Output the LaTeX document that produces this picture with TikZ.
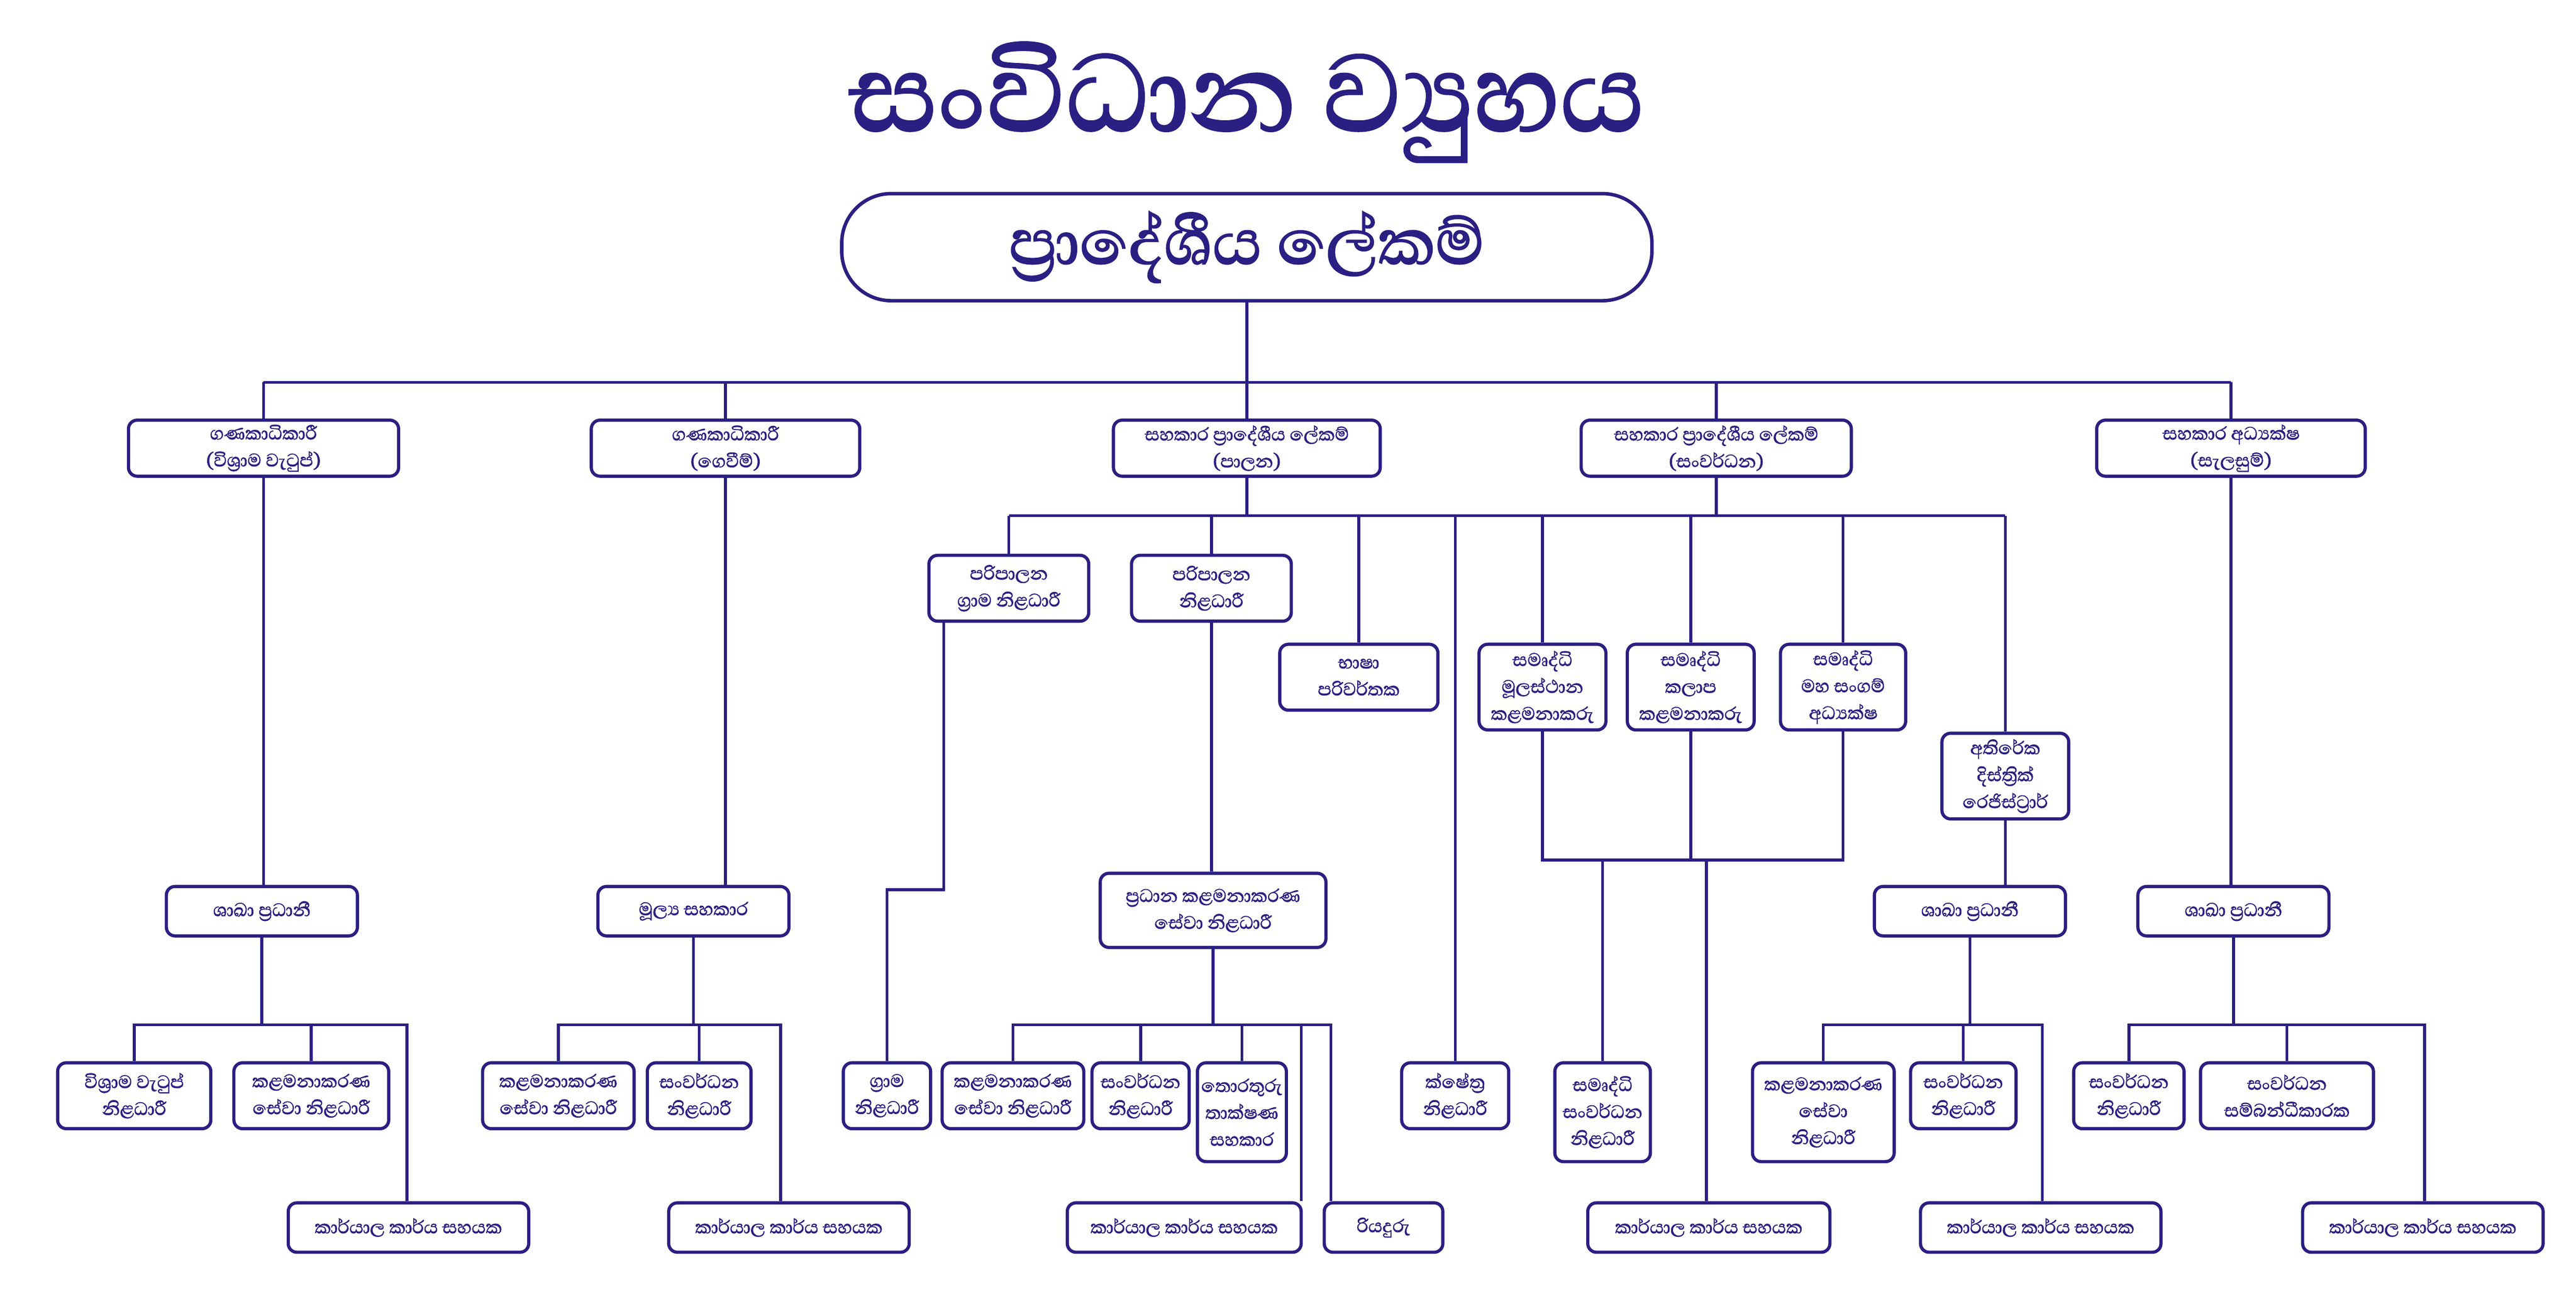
\documentclass[tikz,border=0pt]{standalone}
\usepackage{fontspec}
\newfontfamily\sinfont[Script=Sinhala,FakeBold=1.6]{Abhaya Libre}
\definecolor{nv}{HTML}{2A1F82}
\newcommand\bx[6]{\node[box,minimum width={(#4-#2)*0.02cm},minimum height={(#5-#3)*0.02cm}] (#1) at ({(#2+#4)/2},{(#3+#5)/2}) {#6};}
\begin{document}
\begin{tikzpicture}[x=0.02cm,y=-0.02cm,
  box/.style={draw=nv,line width=1.1pt,rounded corners=3pt,fill=white,text=nv,align=center,inner sep=1pt,font=\sinfont\fontsize{8}{9.3}\selectfont},
  ln/.style={draw=nv,line width=1pt}]
\useasboundingbox[fill=white] (0,0) rectangle (1564,782);
\node[text=nv,font=\sinfont\fontsize{48}{52}\selectfont] (title) at (757,62) {සංවිධාන ව්‍යුහය};
\node[draw=nv,line width=1.2pt,rounded corners=0.6cm,minimum width=9.84cm,minimum height=1.3cm,text=nv,font=\sinfont\fontsize{28}{32}\selectfont] (top) at (757,150) {ප්‍රාදේශීය ලේකම්};
% level 1
\bx{A}{78}{255}{242}{289}{ගණකාධිකාරී\\(විශ්‍රාම වැටුප්)}
\bx{B}{359}{255}{522}{289}{ගණකාධිකාරී\\(ගෙවීම්)}
\bx{C}{676}{255}{838}{289}{සහකාර ප්‍රාදේශීය ලේකම්\\(පාලන)}
\bx{D}{960}{255}{1124}{289}{සහකාර ප්‍රාදේශීය ලේකම්\\(සංවර්ධන)}
\bx{E}{1273}{255}{1436}{289}{සහකාර අධ්‍යක්ෂ\\(සැලසුම්)}
\draw[ln] (top.south) -- (top.south |- 0,232);
\draw[ln] (A.north |- 0,232) -- (E.north |- 0,232);
\foreach \n in {A,B,C,D,E} \draw[ln] (\n.north) -- (\n.north |- 0,232);
% branch A
\bx{A1}{101}{538}{217}{568}{ශාඛා ප්‍රධානී}
\bx{A2}{35}{645}{128}{685}{විශ්‍රාම වැටුප්\\නිළධාරී}
\bx{A3}{142}{645}{236}{685}{කළමනාකරණ\\සේවා නිළධාරී}
\bx{A4}{175}{730}{321}{760}{කාර්යාල කාර්ය සහයක}
\draw[ln] (A.south) -- (A.south |- A1.north);
\draw[ln] (A1.south) -- (A1.south |- 0,622);
\draw[ln] (A2.north) |- (247,622) -- (247,622 |- A4.north);
\draw[ln] (A3.north) -- (A3.north |- 0,622);
% branch B
\bx{B1}{363}{538}{479}{568}{මූල්‍ය සහකාර}
\bx{B2}{293}{645}{385}{685}{කළමනාකරණ\\සේවා නිළධාරී}
\bx{B3}{393}{645}{456}{685}{සංවර්ධන\\නිළධාරී}
\bx{B4}{406}{730}{552}{760}{කාර්යාල කාර්ය සහයක}
\draw[ln] (B.south) -- (B.south |- B1.north);
\draw[ln] (B1.south) -- (B1.south |- 0,622);
\draw[ln] (B2.north) |- (474,622) -- (474,622 |- B4.north);
\draw[ln] (B3.north) -- (B3.north |- 0,622);
% branch C/D level 2
\bx{C1}{564}{337}{661}{377}{පරිපාලන\\ග්‍රාම නිළධාරී}
\bx{C2}{687}{337}{784}{377}{පරිපාලන\\නිළධාරී}
\bx{C3}{777}{391}{873}{431}{භාෂා\\පරිවර්තක}
\bx{D1}{898}{391}{975}{443}{සමෘද්ධි\\මූලස්ථාන\\කළමනාකරු}
\bx{D2}{988}{391}{1065}{443}{සමෘද්ධි\\කලාප\\කළමනාකරු}
\bx{D3}{1081}{391}{1157}{443}{සමෘද්ධි\\මහ සංගම්\\අධ්‍යක්ෂ}
\bx{D4}{1179}{445}{1256}{497}{අතිරේක\\දිස්ත්‍රික්\\රෙජිස්ට්‍රාර්}
\bx{K}{851}{645}{916}{685}{ක්ෂේත්‍ර\\නිළධාරී}
\draw[ln] (C.south) -- (C.south |- 0,313);
\draw[ln] (D.south) -- (D.south |- 0,313);
\draw[ln] (C1.north |- 0,313) -- (D4.north |- 0,313);
\foreach \n in {C1,C2,C3,D1,D2,D3,D4,K} \draw[ln] (\n.north) -- (\n.north |- 0,313);
% gramas
\bx{G}{512}{645}{565}{685}{ග්‍රාම\\නිළධාරී}
\coordinate (g1) at (573,377);
\draw[ln] (g1) |- (G.north |- 0,540) -- (G.north);
% pradhana
\bx{P}{668}{530}{805}{575}{ප්‍රධාන කළමනාකරණ\\සේවා නිළධාරී}
\bx{P1}{572}{645}{658}{685}{කළමනාකරණ\\සේවා නිළධාරී}
\bx{P2}{663}{645}{722}{685}{සංවර්ධන\\නිළධාරී}
\bx{P3}{727}{645}{781}{705}{තොරතුරු\\තාක්ෂණ\\සහකාර}
\bx{P4}{648}{730}{790}{760}{කාර්යාල කාර්ය සහයක}
\bx{P5}{804}{730}{876}{760}{රියදුරු}
\draw[ln] (C2.south) -- (C2.south |- P.north);
\draw[ln] (P.south) -- (P.south |- 0,622);
\draw[ln] (P1.north) |- (808,622) -- (808,622 |- P5.north);
\draw[ln] (P2.north) -- (P2.north |- 0,622);
\draw[ln] (P3.north) -- (P3.north |- 0,622);
\draw[ln] (790,622) -- (790,622 |- P4.north);
% samurdhi
\bx{S1}{944}{645}{1002}{705}{සමෘද්ධි\\සංවර්ධන\\නිළධාරී}
\bx{S2}{964}{730}{1111}{760}{කාර්යාල කාර්ය සහයක}
\draw[ln] (D1.south) |- (D3.south |- 0,522) -- (D3.south);
\draw[ln] (D2.south) -- (D2.south |- 0,522);
\draw[ln] (S1.north) -- (S1.north |- 0,522);
\draw[ln] (1036,522) -- (1036,522 |- S2.north);
% registrar
\bx{R}{1138}{538}{1254}{568}{ශාඛා ප්‍රධානී}
\bx{R1}{1064}{645}{1150}{705}{කළමනාකරණ\\සේවා\\නිළධාරී}
\bx{R2}{1160}{645}{1224}{685}{සංවර්ධන\\නිළධාරී}
\bx{R3}{1166}{730}{1312}{760}{කාර්යාල කාර්ය සහයක}
\draw[ln] (D4.south) -- (D4.south |- R.north);
\draw[ln] (R.south) -- (R.south |- 0,622);
\draw[ln] (R1.north) |- (1240,622) -- (1240,622 |- R3.north);
\draw[ln] (R2.north) -- (R2.north |- 0,622);
% branch E
\bx{E1}{1298}{538}{1414}{568}{ශාඛා ප්‍රධානී}
\bx{E2}{1259}{645}{1326}{685}{සංවර්ධන\\නිළධාරී}
\bx{E3}{1336}{645}{1441}{685}{සංවර්ධන\\සම්බන්ධීකාරක}
\bx{E4}{1398}{730}{1544}{760}{කාර්යාල කාර්ය සහයක}
\draw[ln] (E.south) -- (E.south |- E1.north);
\draw[ln] (E1.south) -- (E1.south |- 0,622);
\draw[ln] (E2.north) |- (1472,622) -- (1472,622 |- E4.north);
\draw[ln] (E3.north) -- (E3.north |- 0,622);
\end{tikzpicture}
\end{document}
